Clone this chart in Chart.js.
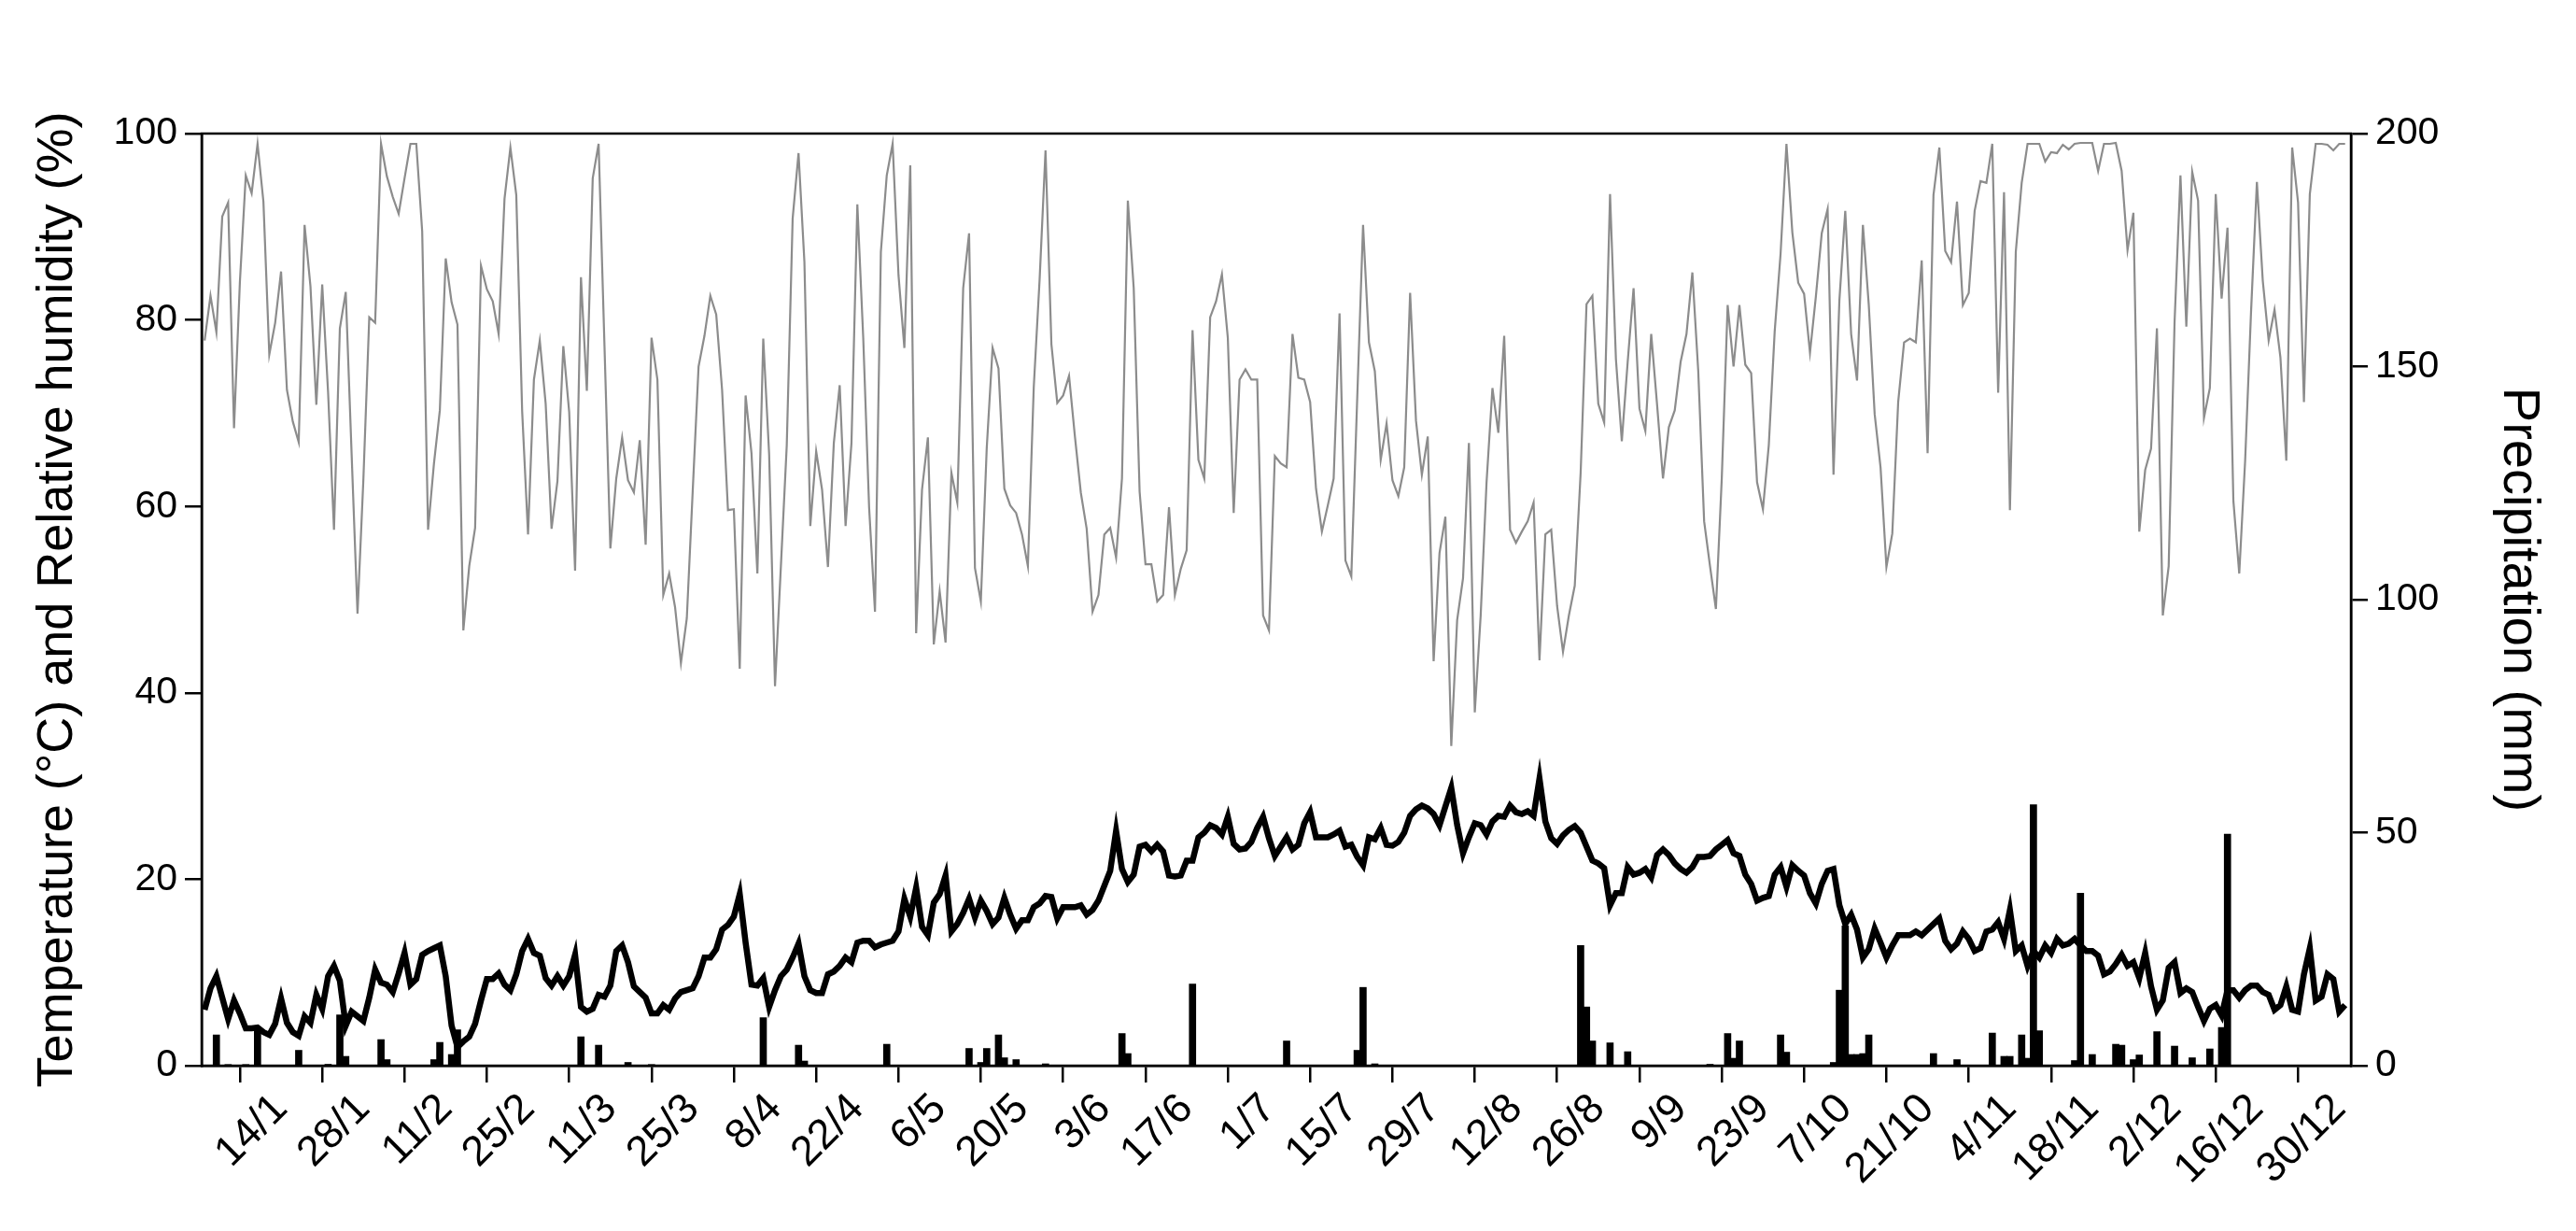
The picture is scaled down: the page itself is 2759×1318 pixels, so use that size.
<!DOCTYPE html>
<html><head><meta charset="utf-8">
<script src="https://cdn.jsdelivr.net/npm/chart.js@4.4.1/dist/chart.umd.min.js"></script>
<style>html,body{margin:0;padding:0;background:#fff}#wrap{width:2759px;height:1318px}</style>
</head><body><div id="wrap"><canvas id="c"></canvas></div>
<script>
const tickDays=[14,28,42,56,70,84,98,112,126,140,154,168,182,196,210,224,238,252,266,280,294,308,322,336,350,364];
const tickLabels=["14/1","28/1","11/2","25/2","11/3","25/3","8/4","22/4","6/5","20/5","3/6","17/6","1/7","15/7","29/7","12/8","26/8","9/9","23/9","7/10","21/10","4/11","18/11","2/12","16/12","30/12"];
const humidity=[77.8,82.6,78.7,91.1,92.6,68.4,84.1,95.5,93.6,98.9,92.7,76.3,79.7,85.2,72.5,69.1,66.9,90.2,83.6,70.9,83.8,72.2,57.5,79.1,83.0,65.6,48.5,62.9,80.3,79.7,98.9,95.4,93.2,91.4,95.2,98.9,98.9,89.5,57.5,64.6,70.3,86.6,81.9,79.5,46.7,53.6,57.7,85.8,83.3,82.0,78.5,93.0,98.5,93.4,70.2,57.0,73.6,77.8,71.0,57.6,62.7,77.2,70.1,53.1,
84.6,72.4,95.2,98.9,77.2,55.5,63.0,67.4,62.8,61.5,67.1,55.9,78.1,73.6,50.5,52.8,49.2,43.2,48.0,61.6,75.0,78.3,82.6,80.6,72.5,59.6,59.7,42.6,71.9,65.7,52.8,78.0,65.6,40.7,53.6,66.6,90.9,97.9,86.2,57.9,65.9,61.8,53.5,66.8,73.0,57.9,66.8,92.4,78.1,59.9,48.7,87.3,95.5,98.9,84.8,77.0,96.6,46.4,61.8,67.4,45.2,50.9,45.4,63.6,
60.4,83.4,89.3,53.4,49.8,66.2,77.0,74.8,61.9,60.1,59.3,57.0,53.6,72.8,84.4,98.2,77.4,71.1,71.9,74.0,67.5,61.5,57.6,48.7,50.5,57.0,57.7,54.5,63.0,92.8,83.4,61.6,53.8,53.8,49.8,50.5,59.9,50.5,53.3,55.3,78.9,65.0,63.0,80.3,82.0,84.9,78.1,59.3,73.6,74.7,73.6,73.6,48.3,46.7,65.4,64.6,64.2,78.5,73.8,73.6,71.2,61.9,57.3,
60.1,63.0,80.7,54.2,52.5,71.5,90.2,77.6,74.5,65.0,68.9,62.8,61.1,64.2,82.9,69.2,63.4,67.5,43.4,55.0,58.9,34.3,47.8,52.3,66.8,37.9,48.3,62.6,72.7,67.9,78.3,57.5,56.1,57.3,58.4,60.4,43.5,57.0,57.5,49.3,44.4,48.3,51.5,63.6,81.7,82.6,71.0,69.0,93.5,75.8,67.0,75.5,83.4,70.5,68.1,78.5,70.9,63.0,68.5,70.3,75.5,78.5,85.1,74.5,
58.4,53.6,49.0,63.0,81.6,75.0,81.6,75.2,74.3,62.6,59.7,66.6,78.8,87.1,98.9,89.4,84.0,82.8,76.5,82.5,89.3,91.9,63.4,82.1,91.7,78.5,73.5,90.2,81.6,69.9,64.2,53.5,57.1,71.2,77.6,78.0,77.6,86.4,65.7,93.4,98.5,87.4,86.2,92.7,81.6,82.9,91.7,94.9,94.7,98.9,72.2,93.7,59.6,87.3,94.7,98.9,98.9,98.9,97.0,98.0,97.9,98.8,98.3,
98.9,99.0,99.0,99.0,96.0,98.9,98.9,99.0,96.0,87.5,91.5,57.3,63.9,66.2,79.1,48.3,53.6,79.8,95.5,79.3,95.9,92.8,69.5,72.7,93.5,82.3,89.9,60.6,52.8,64.9,80.8,94.8,84.2,77.8,81.1,76.0,64.9,98.5,92.6,71.2,93.5,98.9,98.9,98.8,98.2,98.9,98.9];
const temperature=[6.0,8.3,9.6,7.3,5.0,7.0,5.6,4.0,4.0,4.1,3.6,3.3,4.5,7.2,4.6,3.6,3.2,5.3,4.6,7.6,6.1,9.6,10.7,9.1,4.3,5.8,5.3,4.8,7.3,10.3,8.9,8.7,7.9,9.9,12.1,8.7,9.3,11.9,12.3,12.6,12.9,9.6,4.3,2.0,2.6,3.1,4.5,7.0,9.3,9.3,9.9,8.7,8.1,9.8,12.3,13.6,12.1,11.8,9.4,8.6,9.6,8.6,9.6,11.9,
6.3,5.8,6.1,7.6,7.4,8.6,12.3,12.9,11.1,8.5,7.9,7.3,5.6,5.6,6.5,6.0,7.2,7.9,8.1,8.3,9.6,11.6,11.6,12.5,14.6,15.1,16.0,18.4,13.2,8.7,8.6,9.4,6.3,8.1,9.6,10.3,11.6,13.1,9.6,8.1,7.8,7.8,9.8,10.1,10.7,11.6,11.1,13.2,13.4,13.4,12.7,13.0,13.2,13.4,14.4,17.9,16.0,19.1,14.9,14.0,17.5,18.4,20.4,14.4,
15.2,16.4,17.9,15.9,17.7,16.6,15.2,15.9,18.0,16.2,14.7,15.6,15.6,17.0,17.4,18.2,18.1,15.8,17.0,17.0,17.0,17.2,16.2,16.7,17.7,19.3,20.9,25.2,21.1,19.7,20.5,23.5,23.7,23.0,23.7,23.0,20.4,20.3,20.4,22.0,22.0,24.5,25.0,25.8,25.5,24.8,26.7,23.8,23.2,23.3,24.0,25.5,26.7,24.4,22.5,23.5,24.5,23.2,23.7,26.0,27.2,24.5,24.5,
24.5,24.8,25.2,23.5,23.7,22.4,21.5,24.5,24.3,25.5,23.7,23.6,24.0,25.0,26.8,27.5,27.9,27.6,27.0,25.8,27.8,29.8,25.8,22.8,24.5,26.0,25.8,24.8,26.2,26.8,26.7,27.9,27.2,27.0,27.3,26.8,30.8,26.2,24.4,23.8,24.7,25.3,25.7,25.0,23.5,22.0,21.7,21.2,17.2,18.5,18.5,21.3,20.5,20.7,21.1,20.2,22.6,23.2,22.6,21.7,21.1,20.7,21.3,22.4,
22.4,22.5,23.2,23.7,24.2,22.8,22.5,20.5,19.5,17.7,18.0,18.2,20.5,21.3,19.2,21.5,20.9,20.4,18.5,17.4,19.5,20.9,21.1,17.2,15.2,16.2,14.6,11.6,12.5,14.7,13.2,11.6,12.9,14.0,14.0,14.0,14.4,14.0,14.6,15.2,15.8,13.4,12.5,13.1,14.4,13.6,12.3,12.6,14.4,14.6,15.4,13.6,16.7,12.3,12.9,10.7,12.3,11.6,12.9,12.1,13.6,12.9,13.1,
13.6,12.9,12.3,12.3,11.8,9.8,10.1,10.9,11.9,10.7,11.1,9.4,12.1,8.5,6.0,7.0,10.5,11.1,7.8,8.3,7.9,6.3,4.8,6.1,6.5,5.4,8.1,8.1,7.3,8.1,8.6,8.6,7.9,7.6,6.0,6.5,8.5,6.0,5.8,9.8,12.6,7.0,7.4,9.8,9.3,5.8,6.5];
const precipDays=[3,5,8,10,17,22,24,25,31,32,40,41,43,44,65,68,73,77,96,102,103,117,131,133,134,136,137,139,144,157,158,169,185,197,198,200,235,236,237,240,243,257,260,261,262,269,270,278,279,280,281,282,283,284,295,299,305,307,308,310,311,312,313,319,320,322,326,327,329,330,333,336,339,342,344,345];
const precipValues=[6.6,0.2,0.2,7.9,3.3,0.3,10.9,2,5.6,1.3,1.3,5,2.4,7.7,6.2,4.4,0.7,0.2,10.3,4.4,1,4.6,3.7,0.7,3.7,6.6,1.7,1.3,0.4,6.9,2.6,17.5,5.3,3.3,16.8,0.4,25.8,12.6,5.3,4.9,3.0,0.3,6.9,1.6,5.3,6.6,2.9,0.7,16.2,30,2.4,2.4,2.6,6.6,2.6,1.3,7.0,2.0,2.0,6.6,1.6,56,7.5,1.1,37,2.4,4.6,4.4,1.3,2.3,7.3,4.2,1.7,3.6,8.2,49.7];

const humPts=humidity.map((v,i)=>({x:i+1,y:v}));
const tempPts=temperature.map((v,i)=>({x:i+1,y:v}));
const prPts=precipDays.map((d,i)=>({x:d,y:precipValues[i]}));
const F="'Liberation Sans', Arial, sans-serif";
const boxPlugin={id:'box',afterDraw(c){const a=c.chartArea,x=c.ctx;x.save();x.strokeStyle='#000';x.lineWidth=2.5;x.strokeRect(a.left,a.top,a.right-a.left,a.bottom-a.top);x.restore();}};
new Chart(document.getElementById('c'),{
 data:{datasets:[
  {type:'bar',data:prPts,yAxisID:'y2',backgroundColor:'#000',barThickness:7,order:3},
  {type:'line',data:humPts,yAxisID:'y',borderColor:'#8c8c8c',borderWidth:2.2,pointRadius:0,tension:0,order:2},
  {type:'line',data:tempPts,yAxisID:'y',borderColor:'#000',borderWidth:6.5,pointRadius:0,tension:0,order:1}
 ]},
 options:{responsive:true,maintainAspectRatio:false,animation:false,
  layout:{padding:{top:143,left:0,right:0,bottom:0}},
  plugins:{legend:{display:false},tooltip:{enabled:false}},
  scales:{
   x:{type:'linear',min:0.5,max:366,offset:false,
     afterBuildTicks(s){s.ticks=tickDays.map(v=>({value:v}));},
     afterFit(s){s.height=177;},
     ticks:{autoSkip:false,minRotation:45,maxRotation:45,color:'#000',font:{family:F,size:45},padding:2,
       callback:(v)=>{const i=tickDays.indexOf(v);return i>=0?tickLabels[i]:'';}},
     grid:{drawOnChartArea:false,drawTicks:true,tickLength:18,color:'#000',lineWidth:2.5},
     border:{display:true,color:'#000',width:2.5}},
   y:{position:'left',min:0,max:100,
     afterFit(s){s.width=216;},
     ticks:{stepSize:20,color:'#000',font:{family:F,size:41},padding:8},
     grid:{drawOnChartArea:false,tickLength:18,color:'#000',lineWidth:2.5},
     border:{display:true,color:'#000',width:2.5},
     title:{display:true,text:'Temperature (°C) and Relative humidity (%)',color:'#000',font:{family:F,size:54},padding:{top:30,bottom:0}}},
   y2:{position:'right',min:0,max:200,
     afterFit(s){s.width=241;},
     ticks:{stepSize:50,color:'#000',font:{family:F,size:41},padding:8},
     grid:{drawOnChartArea:false,tickLength:18,color:'#000',lineWidth:2.5},
     border:{display:true,color:'#000',width:2.5},
     title:{display:true,text:'Precipitation (mm)',color:'#000',font:{family:F,size:56},padding:{top:28,bottom:0}}}
  }},
 plugins:[boxPlugin]
});
</script></body></html>
